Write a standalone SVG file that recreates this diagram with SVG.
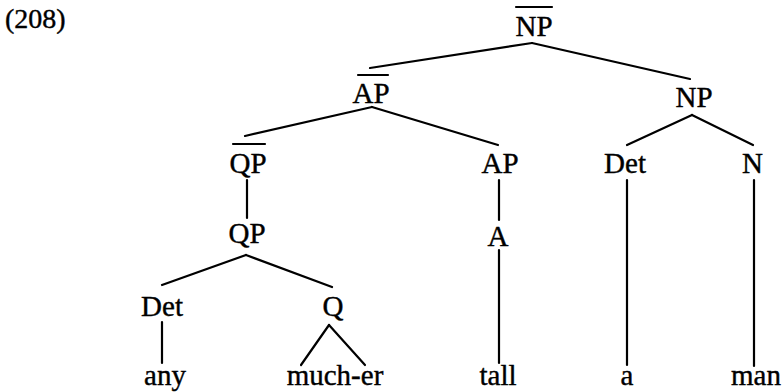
<svg xmlns="http://www.w3.org/2000/svg" width="783" height="392" viewBox="0 0 783 392">
<style>
text{font-family:'Liberation Serif','Times New Roman',Times,'DejaVu Serif',serif;font-size:29px;fill:#000;stroke:#000;stroke-width:0.4;text-anchor:middle}
line{stroke:#000;stroke-width:2.2;stroke-linecap:round}
</style>
<rect width="783" height="392" fill="#fff"/>
<text x="5" y="28" style="text-anchor:start;font-size:28px">(208)</text>
<g id="connectors">
<line x1="532" y1="43" x2="370" y2="68"/>
<line x1="532" y1="43" x2="690" y2="79"/>
<line x1="372" y1="107" x2="245" y2="136"/>
<line x1="372" y1="107" x2="498" y2="145"/>
<line x1="692" y1="115" x2="627" y2="145"/>
<line x1="692" y1="115" x2="753" y2="145"/>
<line x1="247" y1="180" x2="247" y2="218"/>
<line x1="499" y1="180" x2="499" y2="220"/>
<line x1="246" y1="255" x2="162" y2="285"/>
<line x1="246" y1="255" x2="332" y2="287"/>
<line x1="162" y1="322" x2="162" y2="363"/>
<line x1="329" y1="325" x2="301" y2="365"/>
<line x1="329" y1="325" x2="365" y2="365"/>
<line x1="499" y1="250" x2="499" y2="363"/>
<line x1="627" y1="180" x2="627" y2="365"/>
<line x1="754" y1="180" x2="754" y2="366"/>
</g>
<g id="NPbar"><text x="534" y="36">NP</text><line x1="516" y1="7" x2="552" y2="7"/></g>
<g id="APbar"><text x="371" y="103">AP</text><line x1="358" y1="75" x2="388" y2="75"/></g>
<g id="NP"><text x="694" y="107">NP</text></g>
<g id="QPbar"><text x="248" y="173">QP</text><line x1="233" y1="144" x2="265" y2="144"/></g>
<g id="AP"><text x="500" y="173">AP</text></g>
<g id="Det2"><text x="625" y="173">Det</text></g>
<g id="N"><text x="752.5" y="173">N</text></g>
<g id="QP"><text x="247" y="243">QP</text></g>
<g id="A"><text x="498" y="246">A</text></g>
<g id="Det1"><text x="162" y="316">Det</text></g>
<g id="Q"><text x="333" y="316">Q</text></g>
<g id="any"><text x="165" y="385">any</text></g>
<g id="mucher"><text x="335" y="385">much-er</text></g>
<g id="tall"><text x="498" y="385">tall</text></g>
<g id="a"><text x="627" y="385">a</text></g>
<g id="man"><text x="756" y="385">man</text></g>
</svg>
